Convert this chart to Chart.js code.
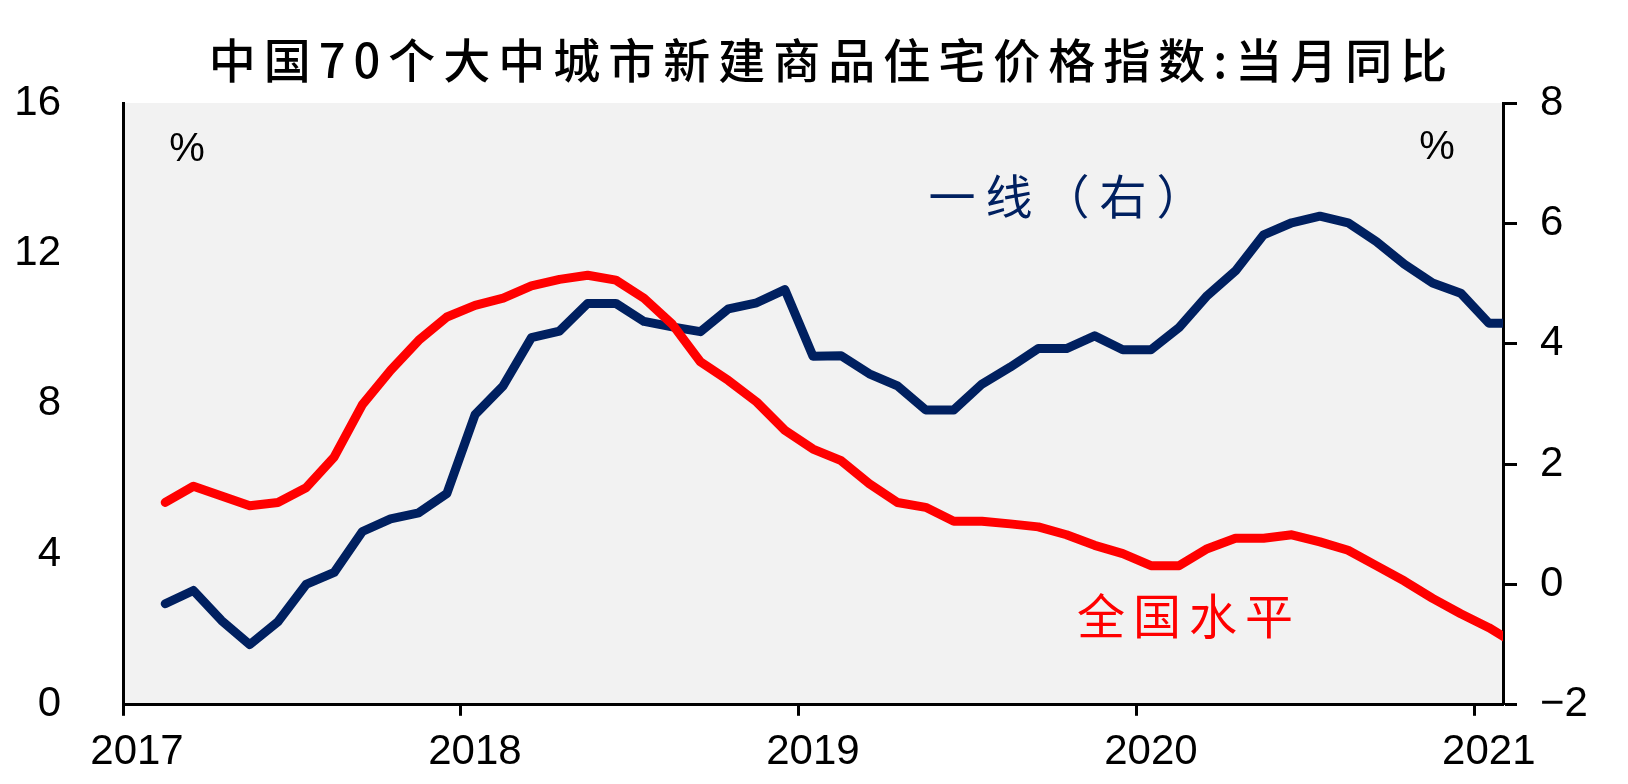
<!DOCTYPE html>
<html>
<head>
<meta charset="utf-8">
<script src="https://cdn.jsdelivr.net/npm/chart.js@4"></script>
<style>
  body { margin: 0; background: #fff; }
  #wrap { width: 1628px; height: 784px; }
</style>
</head>
<body>
<div id="wrap"><canvas id="myChart" width="1628" height="784"></canvas></div>
<script>
const months = [
  "2017-02", "2017-03", "2017-04", "2017-05", "2017-06", "2017-07", "2017-08", "2017-09", "2017-10", "2017-11", "2017-12",
  "2018-01", "2018-02", "2018-03", "2018-04", "2018-05", "2018-06", "2018-07", "2018-08", "2018-09", "2018-10", "2018-11", "2018-12",
  "2019-01", "2019-02", "2019-03", "2019-04", "2019-05", "2019-06", "2019-07", "2019-08", "2019-09", "2019-10", "2019-11", "2019-12",
  "2020-01", "2020-02", "2020-03", "2020-04", "2020-05", "2020-06", "2020-07", "2020-08", "2020-09", "2020-10", "2020-11", "2020-12",
  "2021-01", "2021-02",
];

// 全国水平, left axis
const national = [
  5.38, 5.81, 5.55, 5.29, 5.38, 5.77, 6.59, 7.98, 8.89, 9.69, 10.31,
  10.62, 10.81, 11.14, 11.31, 11.42, 11.29, 10.81, 10.12, 9.12, 8.62, 8.05, 7.30,
  6.80, 6.49, 5.88, 5.38, 5.25, 4.88, 4.88, 4.81, 4.73, 4.52, 4.24, 4.02,
  3.70, 3.70, 4.15, 4.43, 4.43, 4.52, 4.33, 4.11, 3.70, 3.29, 2.83, 2.42,
  2.05, 1.60,
];

// 一线, right axis
const tier1 = [
  -0.32, -0.10, -0.60, -1.00, -0.62, 0.00, 0.20, 0.88, 1.09, 1.19, 1.51,
  2.82, 3.30, 4.10, 4.21, 4.67, 4.67, 4.37, 4.28, 4.20, 4.58, 4.68, 4.90,
  3.79, 3.80, 3.50, 3.30, 2.90, 2.90, 3.33, 3.61, 3.92, 3.92, 4.13, 3.90,
  3.90, 4.27, 4.80, 5.21, 5.81, 6.01, 6.12, 6.01, 5.70, 5.32, 5.01, 4.84,
  4.34, 4.34,
];

const yearLabels = ["2017", "2018", "2019", "2020", "2021"];
const titleText = "中国70个大中城市新建商品住宅价格指数:当月同比";

// month string -> months since Jan 2017, placed mid-month
const toX = (s) => {
  const [y, m] = s.split("-").map(Number);
  return (y - 2017) * 12 + (m - 1) + 0.5;
};

const numFont = { family: "'Liberation Sans', Arial, sans-serif", size: 42 };
const cjk = "'Noto Sans CJK SC', sans-serif";

const decor = {
  id: "decor",
  beforeDraw(chart) {
    const { ctx, chartArea: a } = chart;
    ctx.save();
    ctx.fillStyle = "#f2f2f2";
    ctx.fillRect(a.left, a.top, a.right - a.left, a.bottom - a.top);
    ctx.restore();
  },
  afterDraw(chart) {
    const ctx = chart.ctx;
    const put = (txt, x, y, font, color, spacing) => {
      ctx.save();
      ctx.font = font;
      ctx.fillStyle = color;
      ctx.textAlign = "center";
      ctx.textBaseline = "middle";
      ctx.letterSpacing = spacing + "px";
      ctx.fillText(txt, x + spacing / 2, y);
      ctx.restore();
    };
    put(titleText, 828, 60, "500 47px " + cjk, "#000", 8);
    put("%", 187, 150, "40px 'Liberation Sans', Arial, sans-serif", "#000", 0);
    put("%", 1437, 148, "40px 'Liberation Sans', Arial, sans-serif", "#000", 0);
    put("一线（右）", 1066, 196, "47px " + cjk, "#002060", 10);
    put("全国水平", 1185, 616, "48px " + cjk, "#ff0000", 8);
  },
};

const data = {
  datasets: [
    {
      label: "全国水平",
      data: months.map((m, i) => ({ x: toX(m), y: national[i] })),
      yAxisID: "y",
      borderColor: "#ff0000",
      borderWidth: 9,
      pointRadius: 0,
      tension: 0,
      borderJoinStyle: "round",
      borderCapStyle: "round",
      clip: 0,
    },
    {
      label: "一线（右）",
      data: months.map((m, i) => ({ x: toX(m), y: tier1[i] })),
      yAxisID: "y1",
      borderColor: "#002060",
      borderWidth: 9,
      pointRadius: 0,
      tension: 0,
      borderJoinStyle: "round",
      borderCapStyle: "round",
      clip: 0,
    },
  ],
};

const config = {
  type: "line",
  data: data,
  plugins: [decor],
  options: {
    responsive: false,
    animation: false,
    layout: { padding: { top: 103, left: 0, right: 0, bottom: 0 } },
    plugins: {
      legend: { display: false },
      tooltip: { enabled: false },
    },
    scales: {
      x: {
        type: "linear",
        min: 0,
        max: 49,
        afterFit: (s) => { s.height = 77; },
        grid: { display: true, drawOnChartArea: false, drawTicks: true, tickLength: 11, tickWidth: 3, color: "#000" },
        border: { display: true, width: 3, color: "#000" },
        ticks: {
          stepSize: 12,
          includeBounds: false,
          autoSkip: false,
          maxRotation: 0,
          labelOffset: 14,
          padding: 11,
          color: "#000",
          font: numFont,
          callback: (v) => yearLabels[v / 12],
        },
      },
      y: {
        position: "left",
        min: 0,
        max: 16,
        afterFit: (s) => { s.width = 123; },
        grid: { display: false },
        border: { display: true, width: 3, color: "#000" },
        ticks: { stepSize: 4, padding: 54, color: "#000", font: numFont },
      },
      y1: {
        position: "right",
        min: -2,
        max: 8,
        afterFit: (s) => { s.width = 125; },
        grid: { display: true, drawOnChartArea: false, drawTicks: true, tickLength: 14, tickWidth: 3, color: "#000" },
        border: { display: true, width: 3, color: "#000" },
        ticks: {
          stepSize: 2,
          padding: 23,
          color: "#000",
          font: numFont,
          callback: (v) => String(v).replace("-", "\u2212"),
        },
      },
    },
  },
};

const myChart = new Chart(document.getElementById("myChart").getContext("2d"), config);
</script>
</body>
</html>
